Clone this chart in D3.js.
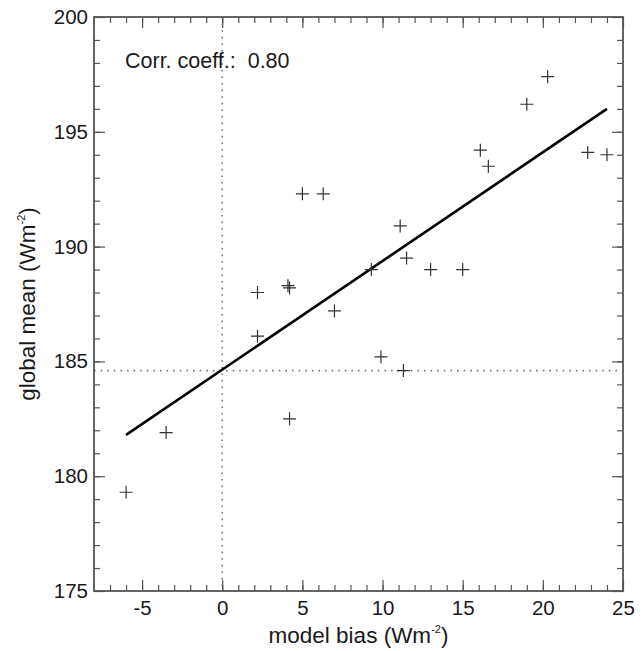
<!DOCTYPE html>
<html>
<head>
<meta charset="utf-8">
<script src="https://cdn.jsdelivr.net/npm/d3@7"></script>
<style>
  body { margin: 0; background: #fff; }
  text { font-family: "Liberation Sans", Arial, Helvetica, sans-serif; fill: #1a1a1a; }
</style>
</head>
<body>
<div id="chart-area"></div>
<script>
const margin = { top: 17, right: 21, bottom: 60, left: 94 };
const width = 644 - margin.left - margin.right;
const height = 651 - margin.top - margin.bottom;

// model bias (x) and global mean (y) for each model
const bias = [20.3, 19.0, 16.1, 16.6, 22.8, 24.0, 5.0, 6.3, 11.1, 11.5, 9.3, 13.0, 15.0,
  2.2, 4.1, 4.2, 7.0, 2.2, 9.9, 11.3, 4.2, -3.5, -6.0];
const globalMean = [197.4, 196.2, 194.2, 193.5, 194.1, 194.0, 192.3, 192.3, 190.9, 189.5, 189.0, 189.0, 189.0,
  188.0, 188.3, 188.2, 187.2, 186.1, 185.2, 184.6, 182.5, 181.9, 179.3];

// regression line end points
const fitX = [-6, 24];
const fitY = [181.8, 196.0];

const refBias = 0;
const refMean = 184.6;
const corrLabel = "Corr. coeff.:  0.80";

const xMajor = [-5, 0, 5, 10, 15, 20, 25];
const yMajor = [175, 180, 185, 190, 195, 200];

const points = bias.map((b, i) => ({ x: b, y: globalMean[i] }));

const svg = d3.select("#chart-area")
  .append("svg")
  .attr("width", width + margin.left + margin.right)
  .attr("height", height + margin.top + margin.bottom);

const g = svg.append("g")
  .attr("transform", `translate(${margin.left}, ${margin.top})`);

const x = d3.scaleLinear().domain([-8, 25]).range([0, width]);
const y = d3.scaleLinear().domain([175, 200]).range([height, 0]);

const frameColor = "#555";
const plain = d => String(d); // hyphen minus, like the original

function styleAxis(sel) {
  sel.select(".domain").remove();
  sel.selectAll(".tick line").attr("stroke", frameColor).attr("stroke-width", 1.2);
  sel.selectAll(".tick text").attr("font-size", 20.5).attr("fill", "#1a1a1a");
}

// major + minor ticks on all four sides, pointing inward
g.append("g")
  .attr("transform", `translate(0, ${height})`)
  .call(d3.axisBottom(x).tickValues(xMajor).tickSize(-11).tickPadding(9).tickFormat(plain))
  .call(styleAxis);
g.append("g")
  .attr("transform", `translate(0, ${height})`)
  .call(d3.axisBottom(x).tickValues(d3.range(-7, 25)).tickSize(-6).tickFormat(""))
  .call(styleAxis);
g.append("g")
  .call(d3.axisTop(x).tickValues(xMajor).tickSize(-11).tickFormat(""))
  .call(styleAxis);
g.append("g")
  .call(d3.axisTop(x).tickValues(d3.range(-7, 25)).tickSize(-6).tickFormat(""))
  .call(styleAxis);

g.append("g")
  .call(d3.axisLeft(y).tickValues(yMajor).tickSize(-11).tickPadding(6).tickFormat(plain))
  .call(styleAxis);
g.append("g")
  .call(d3.axisLeft(y).tickValues(d3.range(176, 200)).tickSize(-6).tickFormat(""))
  .call(styleAxis);
g.append("g")
  .attr("transform", `translate(${width}, 0)`)
  .call(d3.axisRight(y).tickValues(yMajor).tickSize(-11).tickFormat(""))
  .call(styleAxis);
g.append("g")
  .attr("transform", `translate(${width}, 0)`)
  .call(d3.axisRight(y).tickValues(d3.range(176, 200)).tickSize(-6).tickFormat(""))
  .call(styleAxis);

// dotted reference lines
g.append("line")
  .attr("x1", x(refBias)).attr("x2", x(refBias))
  .attr("y1", 0).attr("y2", height)
  .attr("stroke", "#777").attr("stroke-width", 1.6)
  .attr("stroke-dasharray", "1.6,5");
g.append("line")
  .attr("x1", 0).attr("x2", width)
  .attr("y1", y(refMean)).attr("y2", y(refMean))
  .attr("stroke", "#777").attr("stroke-width", 1.6)
  .attr("stroke-dasharray", "1.6,5");

// regression line
g.append("line")
  .attr("x1", x(fitX[0])).attr("y1", y(fitY[0]))
  .attr("x2", x(fitX[1])).attr("y2", y(fitY[1]))
  .attr("stroke", "#000").attr("stroke-width", 2.6);

// plus markers
const arm = 6.5;
g.selectAll("path.plus")
  .data(points)
  .enter()
  .append("path")
  .attr("class", "plus")
  .attr("d", d => {
    const px = x(d.x), py = y(d.y);
    return `M${px - arm},${py}H${px + arm}M${px},${py - arm}V${py + arm}`;
  })
  .attr("stroke", "#333")
  .attr("stroke-width", 1.2)
  .attr("fill", "none");

// frame
g.append("rect")
  .attr("width", width)
  .attr("height", height)
  .attr("fill", "none")
  .attr("stroke", frameColor)
  .attr("stroke-width", 1.8);

g.append("text")
  .attr("x", 31)
  .attr("y", 51)
  .attr("font-size", 21.5)
  .attr("xml:space", "preserve")
  .text(corrLabel);

// axis titles with superscript
const xTitle = g.append("text")
  .attr("x", width / 2)
  .attr("y", height + 52)
  .attr("text-anchor", "middle")
  .attr("font-size", 22.5);
xTitle.append("tspan").text("model bias (Wm");
xTitle.append("tspan").attr("font-size", 11).attr("dy", -10).text("-2");
xTitle.append("tspan").attr("dy", 10).text(")");

const yTitle = g.append("text")
  .attr("transform", "rotate(-90)")
  .attr("x", -height / 2)
  .attr("y", -59)
  .attr("text-anchor", "middle")
  .attr("font-size", 22.5);
yTitle.append("tspan").text("global mean (Wm");
yTitle.append("tspan").attr("font-size", 11).attr("dy", -10).text("-2");
yTitle.append("tspan").attr("dy", 10).text(")");
</script>
</body>
</html>
